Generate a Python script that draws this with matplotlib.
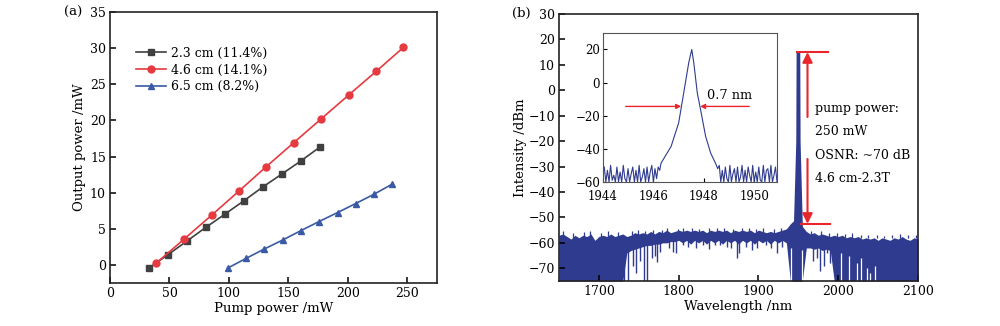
import numpy as np
import matplotlib
matplotlib.use("Agg")
import matplotlib.pyplot as plt

plt.rcParams['font.family'] = ['DejaVu Serif']
plt.rcParams['mathtext.fontset'] = 'dejavuserif'

# (a) slope efficiency data
pump_23 = [32.5, 48.6, 64.7, 80.6, 96.4, 112.8, 128.6, 144.7, 160.6, 176.4]
out_23 = [-0.45, 1.4, 3.3, 5.2, 7.0, 8.9, 10.8, 12.6, 14.4, 16.3]
pump_46 = [38.9, 62.5, 85.6, 108.3, 131.4, 154.4, 177.5, 200.6, 223.9, 246.7]
out_46 = [0.25, 3.6, 6.9, 10.2, 13.6, 16.9, 20.2, 23.5, 26.8, 30.1]
pump_65 = [98.9, 114.4, 129.7, 145.3, 160.6, 175.8, 191.4, 206.7, 222.2, 237.5]
out_65 = [-0.45, 0.9, 2.2, 3.45, 4.75, 6.0, 7.25, 8.5, 9.8, 11.2]
labels_a = ["2.3 cm (11.4%)", "4.6 cm (14.1%)", "6.5 cm (8.2%)"]

# (b) spectrum, read on a 5 nm grid: top of the noise floor and bottom of the solid band
spec_wl = np.arange(1650, 2101, 5)
spec_top = [-57.0, -56.5, -57.5, -58.5, -57.0, -58.0, -57.0, -57.5, -56.5, -59.0,
            -57.5, -57.0, -57.5, -56.5, -57.5, -57.0, -56.5, -57.5, -57.0, -56.0,
            -56.5, -56.0, -56.5, -55.5, -56.5, -55.5, -56.0, -55.0, -56.0, -55.5,
            -55.0, -55.5, -55.0, -55.5, -55.0, -55.5, -55.0, -56.0, -55.0, -55.5,
            -55.0, -55.5, -55.0, -56.0, -55.0, -55.5, -55.0, -55.5, -55.0, -56.0,
            -55.0, -55.5, -56.0, -55.5, -56.0, -55.5, -55.0, -54.5, -52.5, -51.0,
            -52.0, -53.5, -55.5, -56.5, -56.0, -57.0, -56.5, -57.0, -57.5, -57.0,
            -57.5, -57.0, -58.0, -57.5, -58.0, -57.5, -58.5, -58.0, -58.5, -58.0,
            -59.0, -58.0, -58.5, -59.0, -58.0, -58.5, -57.5, -58.5, -59.0, -58.0,
            -58.5]
spec_bot = [-75, -75, -75, -75, -75, -75, -75, -75, -75, -75,
            -75, -75, -75, -75, -75, -75, -75, -64, -63, -62.5,
            -62, -61.5, -61, -61, -60.5, -60.5, -60, -60, -59.5, -59.5,
            -59, -60, -59, -60.5, -59, -60, -59, -60.5, -59, -60,
            -59, -60.5, -59, -60, -59, -60.5, -59, -60, -59, -60.5,
            -59, -60, -59, -60.5, -59, -60, -59, -60, -75, -75,
            -75, -75, -62, -62, -62.5, -62, -63, -62.5, -63, -75,
            -75, -75, -75, -75, -75, -75, -75, -75, -75, -75,
            -75, -75, -75, -75, -75, -75, -75, -75, -75, -75,
            -75]
# short upward spikes on top of the floor
spike_wl = [1655, 1668, 1681, 1689, 1703, 1712, 1724, 1741, 1749, 1758, 1768, 1779,
            1786, 1799, 1806, 1817, 1826, 1838, 1848, 1857, 1868, 1879, 1888, 1897,
            1906, 1919, 1928, 1966, 1979, 1988, 1998, 2008, 2017, 2028, 2037, 2048,
            2058, 2067, 2078, 2088, 2097]
spike_db = [-55.5, -56, -55.8, -55.5, -56, -55.5, -55.8, -55.5, -55, -55.3, -54.8, -55,
            -54.3, -54.5, -54, -54.3, -54.5, -54, -54.3, -54, -54.5, -54, -54.2, -54.5,
            -54, -54.5, -54, -55.3, -55.5, -56, -56, -56.5, -56, -56.8, -57, -57,
            -57.3, -57, -56.5, -57, -57]
# downward dips below the floor
dip_wl = [1732, 1737, 1743, 1747, 1752, 1757, 1760, 1766, 1770, 1773, 1776, 1788,
          1793, 1797, 1805, 1812, 1822, 1831, 1838, 1845, 1852, 1860, 1866, 1873,
          1876, 1884, 1892, 1898, 1910, 1916, 1923, 1929,
          1969, 1974, 1977, 1982, 1986, 1990]
dip_db = [-75, -75, -69, -72, -67, -75, -75, -66, -65, -67.5, -63.5, -62,
          -63.5, -64, -61, -61.5, -62, -61, -62.5, -61, -61, -61.5, -62, -66,
          -64, -61.5, -63, -62, -61, -62, -64, -61.5,
          -67, -66, -71, -69, -64, -68]
gap_wl = [1941, 1955, 2004, 2013, 2024, 2029, 2036, 2040, 2046]
gap_db = [-62, -63, -64, -65, -68, -66, -70, -72, -69]
peak_wl = [1944, 1946.8, 1947.2, 1951.8, 1952.2, 1955]
peak_db = [-51, -20, 15, 15, -20, -53]

# inset: zoom on the laser line
ins_noise_l = [-51, -60, -53, -60, -50, -59, -56, -60, -51, -60, -54, -60, -50, -58,
               -60, -52, -60, -55, -51, -60, -53, -60, -50, -60, -57, -52, -60, -51,
               -60, -54, -50, -60, -52, -58, -51, -53]
ins_peak_wl = [1946.3, 1946.7, 1947.0, 1947.2, 1947.4, 1947.52, 1947.6, 1947.74,
               1947.87, 1948.07, 1948.27, 1948.46]
ins_peak_db = [-48.7, -38.6, -24.4, -6.3, 12, 20, 12, -6.3, -16.4, -32.5, -42.6, -48.7]
ins_noise_r = [-52, -50, -60, -53, -60, -51, -58, -60, -50, -60, -55, -52, -60, -51,
               -60, -57, -50, -60, -53, -60, -51, -56, -60, -50, -60, -54, -60, -51,
               -59, -60, -50, -60, -53, -52, -60, -50, -60, -56, -51, -60]

c_black = "#404040"
c_red = "#e53a40"
c_blue = "#3a5aa5"
c_spec = "#2f3b8e"
c_arrow = "#e8262c"

fig = plt.figure(figsize=(10, 3.26), dpi=100)

# ---------- (a)
ax1 = fig.add_axes([0.110, 0.132, 0.327, 0.831])
ax1.plot(pump_23, out_23, "-s", color=c_black, ms=4.5, lw=1.2, label=labels_a[0])
ax1.plot(pump_46, out_46, "-o", color=c_red, ms=5, lw=1.2, label=labels_a[1])
ax1.plot(pump_65, out_65, "-^", color=c_blue, ms=5, lw=1.2, label=labels_a[2])
ax1.set_xlim(0, 275)
ax1.set_ylim(-2.5, 35)
ax1.set_xticks([0, 50, 100, 150, 200, 250])
ax1.set_yticks([0, 5, 10, 15, 20, 25, 30, 35])
ax1.set_xlabel("Pump power /mW", fontsize=9.5, labelpad=1)
ax1.set_ylabel("Output power /mW", fontsize=9.5, labelpad=3)
ax1.legend(loc="upper left", bbox_to_anchor=(0.065, 0.89), frameon=False, fontsize=9,
           handlelength=2.4, handletextpad=0.4, labelspacing=0.3, borderaxespad=0)
fig.text(0.064, 0.963, "(a)", fontsize=9.5, va="center")

# ---------- (b)
ax2 = fig.add_axes([0.559, 0.138, 0.359, 0.819])
ax2.fill_between(spec_wl, spec_bot, spec_top, color=c_spec, lw=0)
ax2.vlines(spike_wl, -58, spike_db, color=c_spec, lw=0.9)
ax2.vlines(dip_wl, -59, dip_db, color=c_spec, lw=1)
ax2.vlines(gap_wl, gap_db, -75, color="white", lw=0.9)
ax2.fill_between(peak_wl, -75, peak_db, color=c_spec, lw=0)
ax2.set_xlim(1650, 2100)
ax2.set_ylim(-75, 30)
ax2.set_xticks([1700, 1800, 1900, 2000, 2100])
ax2.set_yticks(np.arange(-70, 31, 10))
ax2.set_xlabel("Wavelength /nm", fontsize=9.5, labelpad=1)
ax2.set_ylabel("Intensity /dBm", fontsize=9.5, labelpad=1)
fig.text(0.512, 0.96, "(b)", fontsize=9.5, va="center")

ax2.plot([1948, 1987], [15, 15], color=c_arrow, lw=1.5)
ax2.plot([1953, 1990], [-52.5, -52.5], color=c_arrow, lw=1.5)
ax2.annotate("", xy=(1961.5, 15), xytext=(1961.5, -10.5),
             arrowprops=dict(arrowstyle="-|>", color=c_arrow, lw=1.5, mutation_scale=15,
                             shrinkA=0, shrinkB=0))
ax2.annotate("", xy=(1961.5, -52.5), xytext=(1961.5, -27),
             arrowprops=dict(arrowstyle="-|>", color=c_arrow, lw=1.5, mutation_scale=15,
                             shrinkA=0, shrinkB=0))
for txt, yy in zip(["pump power:", "250 mW", "OSNR: ~70 dB", "4.6 cm-2.3T"],
                   [-7.0, -16.3, -25.5, -34.8]):
    ax2.text(1971, yy, txt, fontsize=9, va="center", ha="left")

# ---------- inset
ax3 = fig.add_axes([0.603, 0.442, 0.174, 0.457])
wl_l = np.linspace(1944.05, 1946.25, len(ins_noise_l))
wl_r = np.linspace(1948.55, 1950.9, len(ins_noise_r))
ins_wl = np.concatenate([wl_l, ins_peak_wl, wl_r])
ins_db = np.concatenate([ins_noise_l, ins_peak_db, ins_noise_r])
ax3.plot(ins_wl, ins_db, color=c_spec, lw=0.8)
ax3.set_xlim(1944, 1950.9)
ax3.set_ylim(-60, 30)
ax3.set_xticks([1944, 1946, 1948, 1950])
ax3.set_yticks([-60, -40, -20, 0, 20])
ax3.annotate("", xy=(1947.1, -14.4), xytext=(1944.9, -14.4),
             arrowprops=dict(arrowstyle="-|>", color=c_arrow, lw=1, mutation_scale=7,
                             shrinkA=0, shrinkB=0))
ax3.annotate("", xy=(1947.85, -14.4), xytext=(1949.8, -14.4),
             arrowprops=dict(arrowstyle="-|>", color=c_arrow, lw=1, mutation_scale=7,
                             shrinkA=0, shrinkB=0))
ax3.text(1948.13, -7.9, "0.7 nm", fontsize=9.3, va="center", ha="left")

for ax in (ax1, ax2):
    for s in ax.spines.values():
        s.set_linewidth(1.2)
        s.set_color("#222222")
    ax.tick_params(direction="in", length=4, width=1.1, labelsize=9, pad=3)
for s in ax3.spines.values():
    s.set_linewidth(0.8)
    s.set_color("#555555")
ax3.tick_params(direction="in", length=3, width=0.8, labelsize=8.5, pad=2)
ax3.tick_params(axis="x", pad=6)

fig.savefig("out.png", dpi=100)
